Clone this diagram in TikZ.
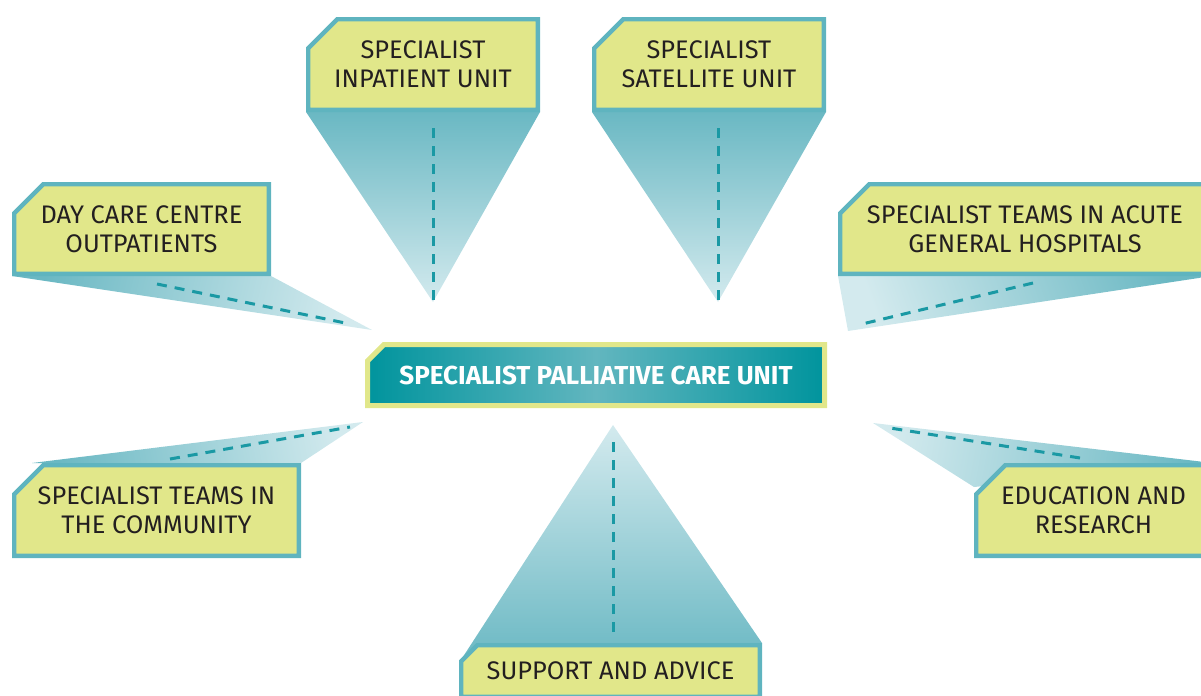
\documentclass[tikz,border=0pt]{standalone}
\usepackage{fontspec}
\setmainfont{Fira Sans}
\usepackage{tikz}
\usetikzlibrary{positioning, calc, backgrounds, shapes.misc}
\definecolor{boxfill}{HTML}{E1E78A}
\definecolor{boxline}{HTML}{5FB4BF}
\definecolor{ink}{HTML}{231F20}
\definecolor{hubdark}{HTML}{00949D}
\definecolor{hublight}{HTML}{62B6BF}
\definecolor{beamdark}{HTML}{6AB8C3}
\definecolor{beamlight}{HTML}{D3EAEE}
\definecolor{spokeline}{HTML}{1A99A4}
\tikzset{
  unitbox/.style={draw=boxline, fill=boxfill, line width=2.2pt, chamfered rectangle,
    chamfered rectangle corners=north west, chamfered rectangle xsep=11pt,
    align=center, text=ink, font=\fontsize{12.7}{14.5}\selectfont, inner sep=0pt},
  hub/.style={unitbox, draw=boxfill, line width=2.5pt, left color=hubdark,
    right color=hubdark, middle color=hublight, text=white, font=\fontsize{13}{14.5}\selectfont\bfseries},
  beam/.style={top color=beamdark, bottom color=beamlight},
  spoke/.style={draw=spokeline, line width=1.5pt, dash pattern=on 5pt off 4pt},
}

\begin{document}
\begin{tikzpicture}[x=0.5pt, y=-0.5pt]
\clip (0,0) rectangle (1201,696);
% boxes
\node[unitbox, minimum width=114.8pt, minimum height=45.3pt] (inp) at (423,64.5) {SPECIALIST\\INPATIENT UNIT};
\node[unitbox, minimum width=114.8pt, minimum height=45.3pt] (sat) at (709,64.5) {SPECIALIST\\SATELLITE UNIT};
\node[unitbox, minimum width=127.3pt, minimum height=44.8pt] (day) at (141.5,229) {DAY CARE CENTRE\\OUTPATIENTS};
\node[unitbox, minimum width=184.8pt, minimum height=44.8pt] (acu) at (1025,229) {SPECIALIST TEAMS IN ACUTE\\GENERAL HOSPITALS};
\node[unitbox, minimum width=142.3pt, minimum height=45.3pt] (com) at (156.5,510.5) {SPECIALIST TEAMS IN\\THE COMMUNITY};
\node[unitbox, minimum width=117.3pt, minimum height=45.3pt] (edu) at (1093.5,510.5) {EDUCATION AND\\RESEARCH};
\node[unitbox, minimum width=149.3pt, minimum height=25.8pt] (sup) at (610.5,671) {SUPPORT AND ADVICE};
\node[hub, minimum width=228.5pt, minimum height=30.5pt] (hub) at (596,375) {SPECIALIST PALLIATIVE CARE UNIT};
% beam tips
\coordinate (inpT) at (433,302);
\coordinate (satT) at (718,302);
\coordinate (dayT) at (372,330);
\coordinate (acuT) at (848,331);
\coordinate (comT) at (363,422);
\coordinate (eduT) at (873,423);
\coordinate (supT) at (613,425);
% dash ends
\coordinate (inpA) at (433,128); \coordinate (inpB) at (433,300);
\coordinate (satA) at (718,128); \coordinate (satB) at (718,300);
\coordinate (dayA) at (157,284); \coordinate (dayB) at (350,324);
\coordinate (acuA) at (1033,283); \coordinate (acuB) at (858,325);
\coordinate (comA) at (170,459); \coordinate (comB) at (350,427);
\coordinate (eduA) at (1080,458); \coordinate (eduB) at (890,428);
\coordinate (supA) at (613,632); \coordinate (supB) at (613,437);
\begin{scope}[on background layer]
\path[beam] (inp.west |- inp.south) -- (inp.east |- inp.south) -- (inpT) -- cycle;
\path[beam] (sat.west |- sat.south) -- (sat.east |- sat.south) -- (satT) -- cycle;
\path[beam, shading angle=77] (day.west |- day.south) -- (day.east |- day.south) -- (dayT) -- cycle;
\path[beam, shading angle=-70] (acu.west |- acu.south) -- (acu.east |- acu.south) -- (acuT) -- cycle;
\path[beam, shading angle=101] ($(com.west |- com.north)+(20,0)$) -- (com.east |- com.north) -- (comT) -- cycle;
\path[beam, shading angle=-100] ($(edu.west |- edu.north)+(0,24)$) -- (edu.east |- edu.north) -- (eduT) -- cycle;
\path[beam, shading angle=180] ($(sup.west |- sup.north)+(0,20)$) -- (sup.east |- sup.north) -- (supT) -- cycle;
\foreach \n in {inp, sat, day, acu, com, edu, sup}
  \draw[spoke] (\n A) -- (\n B);
\end{scope}
\end{tikzpicture}
\end{document}
